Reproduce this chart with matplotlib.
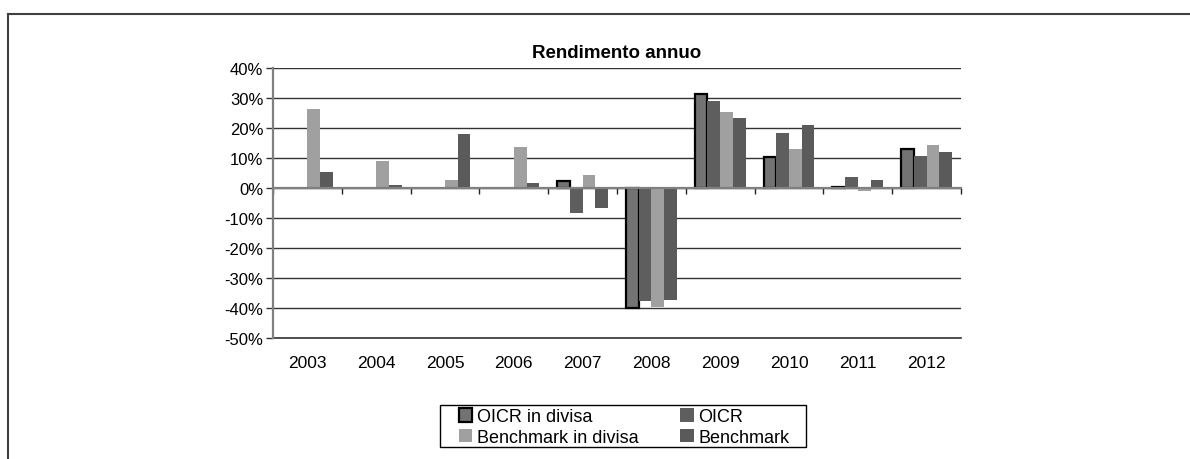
import numpy as np
import matplotlib
matplotlib.use("Agg")
import matplotlib.pyplot as plt
from matplotlib.lines import Line2D
from matplotlib.patches import Patch, Rectangle

plt.rcParams["font.family"] = ["Liberation Sans", "DejaVu Sans"]

years = ["2003", "2004", "2005", "2006", "2007", "2008", "2009", "2010", "2011", "2012"]
oicr_divisa = [np.nan, np.nan, np.nan, np.nan, 2.3, -40.0, 31.3, 10.2, 0.4, 12.9]
oicr = [np.nan, np.nan, np.nan, np.nan, -8.2, -37.6, 29.1, 18.2, 3.6, 10.6]
bench_divisa = [26.4, 8.9, 2.8, 13.6, 4.3, -39.8, 25.2, 12.9, -1.0, 14.2]
bench = [5.5, 1.1, 18.0, 1.8, -6.6, -37.2, 23.2, 20.9, 2.6, 11.9]

series = [
    ("OICR in divisa", oicr_divisa, "#737373", "black", 1.6),
    ("OICR", oicr, "#5e5e5e", "none", 0),
    ("Benchmark in divisa", bench_divisa, "#a0a0a0", "none", 0),
    ("Benchmark", bench, "#5a5a5a", "none", 0),
]

fig = plt.figure(figsize=(11.9, 4.6), dpi=100)
ax = fig.add_axes([273 / 1190, 1 - 339 / 460, 688 / 1190, 270 / 460])

x = np.arange(len(years))
w = 0.185
for k, (name, vals, fc, ec, lw) in enumerate(series):
    ax.bar(x + (k - 1.5) * w, vals, w, color=fc, edgecolor=ec, linewidth=lw,
           zorder=3, label=name)

ax.set_xlim(-0.5, len(years) - 0.5)
ax.set_ylim(-50, 40)
yt = np.arange(-50, 41, 10)
ax.set_yticks(yt)
ax.set_yticklabels([f"{v}%" for v in yt], fontsize=12)
ax.grid(axis="y", color="#333333", linewidth=1.0, zorder=0)
ax.axhline(yt[0], color="#333333", linewidth=1.2, zorder=0, clip_on=False)
ax.tick_params(axis="y", direction="out", length=5, width=1, color="#333333", pad=2)

# category axis at zero with ticks at the boundaries
for s in ["top", "right"]:
    ax.spines[s].set_visible(False)
ax.spines["bottom"].set_position(("data", 0))
ax.spines["bottom"].set_color("#808080")
ax.spines["bottom"].set_linewidth(1.6)
ax.spines["bottom"].set_zorder(4)
ax.spines["left"].set_color("#808080")
ax.spines["left"].set_linewidth(1.6)
ax.set_xticks(np.arange(len(years) + 1) - 0.5)
ax.set_xticklabels([])
ax.tick_params(axis="x", direction="out", length=4, width=1, color="#222222")

tr = ax.get_xaxis_transform()
for i, yr in enumerate(years):
    ax.text(i, -0.092, yr, transform=tr, ha="center", va="center", fontsize=12.5)

ax.set_title("Rendimento annuo", fontsize=13.5, fontweight="bold", pad=8)

handles = [Patch(facecolor=s[2], edgecolor=s[3], linewidth=s[4] if s[4] else 0) for s in series]
labels = [s[0] for s in series]
order = [0, 2, 1, 3]
leg = fig.legend([handles[i] for i in order], [labels[i] for i in order], ncol=2,
                 loc="center", bbox_to_anchor=(624 / 1190, 1 - 428 / 460),
                 frameon=False, fontsize=13,
                 handlelength=0.75, handleheight=0.75, handletextpad=0.25,
                 columnspacing=2.3, labelspacing=0.2, borderpad=0.1,
                 borderaxespad=0)
fig.add_artist(Rectangle((440 / 1190, 1 - 448 / 460), 366 / 1190, 42 / 460,
                         transform=fig.transFigure, fill=False,
                         edgecolor="black", linewidth=1.0))

# outer chart border (cropped at right and bottom)
fig.add_artist(Line2D([8 / 1190, 1], [1 - 15 / 460, 1 - 15 / 460],
                      transform=fig.transFigure, color="#404040", linewidth=1.5))
fig.add_artist(Line2D([8 / 1190, 8 / 1190], [0, 1 - 15 / 460],
                      transform=fig.transFigure, color="#404040", linewidth=1.5))

fig.savefig("out.png", dpi=100)
